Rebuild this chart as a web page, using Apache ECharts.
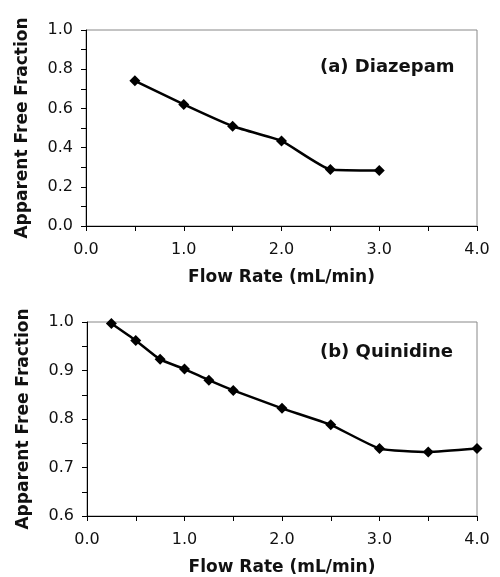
<!DOCTYPE html>
<html>
<head>
<meta charset="utf-8">
<script src="https://cdn.jsdelivr.net/npm/echarts@6/dist/echarts.min.js"></script>
<style>
  html, body { margin: 0; padding: 0; background: #fff; }
  #chart { width: 500px; height: 577px; }
</style>
</head>
<body>
<div id="chart"></div>
<script>
// (a) Diazepam
const flowA = [0.5, 1.0, 1.5, 2.0, 2.5, 3.0]
const fracA = [0.741, 0.620, 0.509, 0.434, 0.288, 0.283]
// (b) Quinidine
const flowB = [0.25, 0.5, 0.75, 1.0, 1.25, 1.5, 2.0, 2.5, 3.0, 3.5, 4.0]
const fracB = [0.997, 0.962, 0.923, 0.903, 0.880, 0.859, 0.822, 0.788, 0.739, 0.732, 0.739]

const panelTitles = ['(a) Diazepam', '(b) Quinidine']
const xName = 'Flow Rate (mL/min)'
const yName = 'Apparent Free Fraction'

const FONT = 'DejaVu Sans'
const INK = '#111'

// 轴的通用配置
const xAxisBase = (gridIndex) => ({
  type: 'value',
  gridIndex,
  min: 0,
  max: 4,
  interval: 0.5,
  name: xName,
  nameLocation: 'middle',
  nameGap: 43,
  nameTextStyle: { fontFamily: FONT, fontWeight: 'bold', fontSize: 17, color: INK },
  axisLine: { show: true, lineStyle: { color: '#000', width: 1 } },
  axisTick: { show: true, inside: false, length: 5, lineStyle: { color: '#000' } },
  axisLabel: {
    fontFamily: FONT, fontSize: 16, color: INK, margin: 16,
    formatter: v => (Math.round(v * 2) % 2 === 0 ? v.toFixed(1) : '')
  },
  splitLine: { show: false }
})

const yAxisBase = (gridIndex, min, max, interval, labelEvery) => ({
  type: 'value',
  gridIndex,
  min,
  max,
  interval,
  name: yName,
  nameLocation: 'middle',
  nameGap: 55,
  nameTextStyle: { fontFamily: FONT, fontWeight: 'bold', fontSize: 17, color: INK },
  axisLine: { show: true, lineStyle: { color: '#000', width: 1 } },
  axisTick: { show: true, inside: false, length: 5, lineStyle: { color: '#000' } },
  axisLabel: {
    fontFamily: FONT, fontSize: 16, color: INK, margin: 13,
    formatter: v => (Math.round(v / interval) % labelEvery === 0 ? v.toFixed(1) : '')
  },
  splitLine: { show: false }
})

const seriesBase = (idx, xs, ys) => ({
  type: 'line',
  xAxisIndex: idx,
  yAxisIndex: idx,
  data: xs.map((x, i) => [x, ys[i]]),
  smooth: 0.15,
  clip: false,
  symbol: 'diamond',
  symbolSize: 11,
  itemStyle: { color: '#000' },
  lineStyle: { color: '#000', width: 2.5 }
})

const chart = echarts.init(document.getElementById('chart'))
chart.setOption({
  animation: false,
  backgroundColor: '#fff',
  title: [
    { text: panelTitles[0], left: 320, top: 58, padding: 0,
      textStyle: { fontFamily: FONT, fontWeight: 'bold', fontSize: 18, color: INK } },
    { text: panelTitles[1], left: 320, top: 343, padding: 0,
      textStyle: { fontFamily: FONT, fontWeight: 'bold', fontSize: 18, color: INK } }
  ],
  grid: [
    { left: 86, top: 30, width: 391, height: 196, show: true, borderColor: '#888', borderWidth: 1 },
    { left: 87, top: 322, width: 390, height: 194, show: true, borderColor: '#888', borderWidth: 1 }
  ],
  xAxis: [xAxisBase(0), xAxisBase(1)],
  yAxis: [
    yAxisBase(0, 0, 1, 0.1, 2),
    yAxisBase(1, 0.6, 1.0, 0.05, 2)
  ],
  series: [
    seriesBase(0, flowA, fracA),
    seriesBase(1, flowB, fracB)
  ]
})
</script>
</body>
</html>
